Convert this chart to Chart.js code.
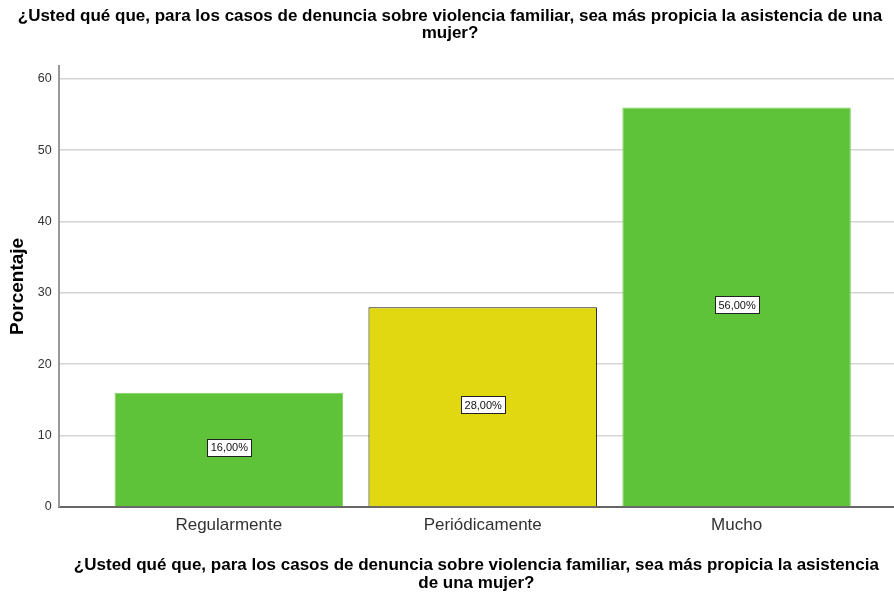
<!DOCTYPE html>
<html>
<head>
<meta charset="utf-8">
<script src="https://cdn.jsdelivr.net/npm/chart.js@4/dist/chart.umd.min.js"></script>
<style>
  html, body { margin: 0; padding: 0; background: #fff; }
  #wrap { width: 894px; height: 594px; position: relative; }
</style>
</head>
<body>
<div id="wrap"><canvas id="chart"></canvas></div>
<script>
const categories = ['Regularmente', 'Periódicamente', 'Mucho'];
const percentages = [16, 28, 56];
const valueLabels = ['16,00%', '28,00%', '56,00%'];
const barColors = ['#5fc33a', '#e1d811', '#5fc33a'];
const barBorders = ['#7fd35f', '#1a1a1a', '#7fd35f'];
const yTicks = [0, 10, 20, 30, 40, 50, 60];

const titleText = ['¿Usted qué que, para los casos de denuncia sobre violencia familiar, sea más propicia la asistencia de una', 'mujer?'];
const xTitleText = ['¿Usted qué que, para los casos de denuncia sobre violencia familiar, sea más propicia la asistencia', 'de una mujer?'];

const FONT = '"Liberation Sans", Arial, sans-serif';

// boxed value label in the middle of each bar
const boxLabels = {
    id: 'boxLabels',
    afterDatasetsDraw(chart) {
        const ctx = chart.ctx;
        const meta = chart.getDatasetMeta(0);
        ctx.save();
        ctx.font = '11px ' + FONT;
        ctx.textAlign = 'center';
        ctx.textBaseline = 'middle';
        meta.data.forEach((bar, i) => {
            const txt = valueLabels[i];
            const cy = (bar.y + bar.base) / 2 - 2;
            const w = Math.round(ctx.measureText(txt).width + 7);
            const h = 17;
            const x0 = Math.round(bar.x - w / 2), y0 = Math.round(cy - h / 2);
            ctx.fillStyle = '#ffffff';
            ctx.fillRect(x0, y0, w, h);
            ctx.strokeStyle = '#222';
            ctx.lineWidth = 1;
            ctx.strokeRect(x0 + 0.5, y0 + 0.5, w, h);
            ctx.fillStyle = '#111';
            ctx.fillText(txt, bar.x + 0.5, cy + 1);
        });
        ctx.restore();
    }
};

new Chart(document.getElementById('chart'), {
    type: 'bar',
    data: {
        datasets: [{
            data: percentages.map((v, i) => ({ x: i, y: v })),
            backgroundColor: barColors,
            borderColor: barBorders,
            borderWidth: 1,
            categoryPercentage: 0.9,
            barPercentage: 1
        }]
    },
    options: {
        responsive: true,
        maintainAspectRatio: false,
        animation: false,
        layout: { padding: { left: 6, right: 0, top: 0, bottom: 2 } },
        plugins: {
            legend: { display: false },
            tooltip: { enabled: false },
            title: {
                display: true,
                text: titleText,
                color: '#000',
                font: { family: FONT, size: 17, weight: 'bold', lineHeight: 1.0 },
                padding: { top: 8, bottom: 24 }
            }
        },
        scales: {
            x: {
                type: 'linear',
                offset: false,
                min: -0.67,
                max: 2.62,
                afterBuildTicks: (scale) => { scale.ticks = categories.map((c, i) => ({ value: i })); },
                grid: { display: false, drawTicks: false },
                border: { color: '#666', width: 2 },
                ticks: {
                    callback: (v) => categories[v],
                    color: '#333',
                    padding: 8,
                    maxRotation: 0,
                    autoSkip: false,
                    font: { family: FONT, size: 17 }
                },
                title: {
                    display: true,
                    text: xTitleText,
                    color: '#000',
                    font: { family: FONT, size: 17, weight: 'bold', lineHeight: 1.05 },
                    padding: { top: 13, bottom: 0 }
                }
            },
            y: {
                min: 0,
                max: 61.8,
                afterBuildTicks: (scale) => { scale.ticks = yTicks.map(v => ({ value: v })); },
                grid: { color: '#d4d4d4', lineWidth: 1.5, drawTicks: false },
                border: { color: '#999', width: 2 },
                ticks: {
                    color: '#333',
                    padding: 7,
                    font: { family: FONT, size: 12.5 }
                },
                title: {
                    display: true,
                    text: 'Porcentaje',
                    color: '#000',
                    font: { family: FONT, size: 19, weight: 'bold' },
                    padding: { top: 0, bottom: 2 }
                }
            }
        }
    },
    plugins: [boxLabels]
});
</script>
</body>
</html>
